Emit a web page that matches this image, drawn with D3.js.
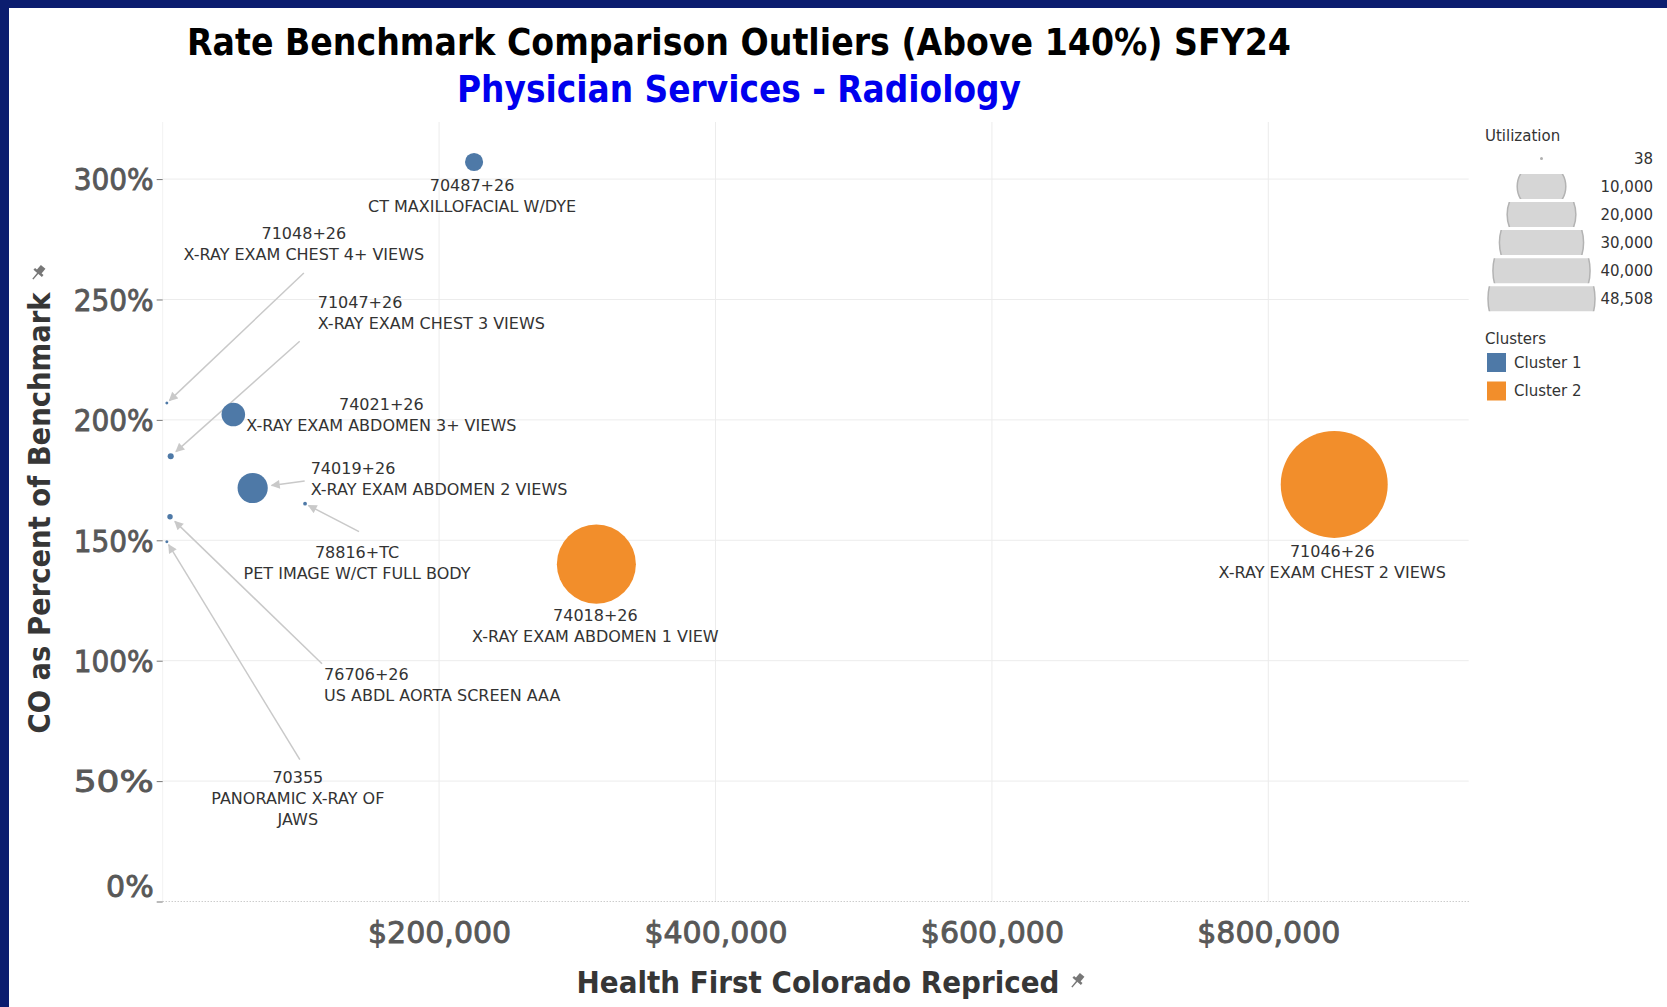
<!DOCTYPE html>
<html>
<head>
<meta charset="utf-8">
<script src="https://cdn.jsdelivr.net/npm/d3@7"></script>
<style>
  body { margin: 0; background: #fff; }
  svg text { font-family: "DejaVu Sans", Verdana, sans-serif; }
</style>
</head>
<body>
<svg id="chart" width="1667" height="1007"></svg>
<script>
// ---- data ----
const codes = ["70487+26", "71048+26", "71047+26", "74021+26", "74019+26",
               "78816+TC", "74018+26", "76706+26", "70355", "71046+26"];
const descriptions = ["CT MAXILLOFACIAL W/DYE", "X-RAY EXAM CHEST 4+ VIEWS", "X-RAY EXAM CHEST 3 VIEWS",
                      "X-RAY EXAM ABDOMEN 3+ VIEWS", "X-RAY EXAM ABDOMEN 2 VIEWS", "PET IMAGE W/CT FULL BODY",
                      "X-RAY EXAM ABDOMEN 1 VIEW", "US ABDL AORTA SCREEN AAA", "PANORAMIC X-RAY OF JAWS",
                      "X-RAY EXAM CHEST 2 VIEWS"];
const repriced = [225300, 3000, 5800, 51100, 65100, 103000, 313800, 5300, 3000, 847700];
const pctOfBenchmark = [307.1, 207.0, 184.9, 202.2, 171.7, 165.2, 140.1, 159.8, 149.4, 173.2];
const utilization = [1390, 38, 155, 2350, 3860, 60, 26470, 125, 38, 48508];
const clusterOf = [1, 1, 1, 1, 1, 1, 2, 1, 1, 2];

const xTicks = [200000, 400000, 600000, 800000];
const yTicks = [0, 50, 100, 150, 200, 250, 300];
const sizeLegendValues = [38, 10000, 20000, 30000, 40000, 48508];
const clusterNames = ["Cluster 1", "Cluster 2"];
const clusterColors = ["#4e79a7", "#f28e2b"];

// annotation placement, pixel offsets from each mark (label first baseline, arrow tail)
const labelLayout = [
  {dx: -2,  dy: 29,   anchor: "middle", wrap: 40},
  {dx: 137, dy: -164, anchor: "middle", wrap: 40, arrow: [137, -130]},
  {dx: 147, dy: -148, anchor: "start",  wrap: 40, arrow: [129, -115]},
  {dx: 148, dy: -5,   anchor: "middle", wrap: 40},
  {dx: 58,  dy: -14,  anchor: "start",  wrap: 40, arrow: [52, -7]},
  {dx: 52,  dy: 54,   anchor: "middle", wrap: 40, arrow: [54, 28]},
  {dx: -1,  dy: 57,   anchor: "middle", wrap: 40},
  {dx: 154, dy: 163,  anchor: "start",  wrap: 40, arrow: [152, 147]},
  {dx: 131, dy: 241,  anchor: "middle", wrap: 18, arrow: [133, 218]},
  {dx: -2,  dy: 73,   anchor: "middle", wrap: 40}
];

// ---- layout ----
const plot = {left: 162.7, right: 1468.7, top: 122, bottom: 901.5};
const svg = d3.select("#chart");

const x = d3.scaleLinear().domain([0, 945000]).range([plot.left, plot.right]);
const y = d3.scaleLinear().domain([0, 323.7]).range([plot.bottom, plot.top]);
const r = d3.scaleSqrt().domain([0, 48508]).range([0, 53.5]);
const color = d => clusterColors[d - 1];

// page frame
svg.append("rect").attr("width", 1667).attr("height", 1007).attr("fill", "#fff");
svg.append("rect").attr("width", 1667).attr("height", 8).attr("fill", "#0b1d6f");
svg.append("rect").attr("width", 9).attr("height", 1007).attr("fill", "#0b1d6f");

// titles
svg.append("text")
   .attr("x", 739).attr("y", 55)
   .attr("text-anchor", "middle")
   .attr("textLength", 1104).attr("lengthAdjust", "spacingAndGlyphs")
   .style("font-size", "38px").style("font-weight", "bold").attr("fill", "#000")
   .text("Rate Benchmark Comparison Outliers (Above 140%) SFY24");
svg.append("text")
   .attr("x", 739).attr("y", 102)
   .attr("text-anchor", "middle")
   .attr("textLength", 564).attr("lengthAdjust", "spacingAndGlyphs")
   .style("font-size", "38px").style("font-weight", "bold").attr("fill", "#0000ee")
   .text("Physician Services - Radiology");

// grid
let grid = svg.append("g");
grid.selectAll(".hgrid")
    .data(yTicks.filter(d => d > 0))
    .enter().append("line")
    .attr("x1", plot.left).attr("x2", plot.right)
    .attr("y1", d => y(d)).attr("y2", d => y(d))
    .attr("stroke", "#ececec");
grid.selectAll(".vgrid")
    .data([0].concat(xTicks))
    .enter().append("line")
    .attr("x1", d => x(d)).attr("x2", d => x(d))
    .attr("y1", plot.top).attr("y2", plot.bottom)
    .attr("stroke", d => d === 0 ? "#f2f2f2" : "#ececec");
grid.append("line")
    .attr("x1", plot.left).attr("x2", plot.right)
    .attr("y1", y(0)).attr("y2", y(0))
    .attr("stroke", "#b5b5b5").attr("stroke-dasharray", "1,2");

// y axis
svg.append("g")
   .attr("transform", `translate(${plot.left},0)`)
   .call(d3.axisLeft(y).tickValues(yTicks).tickFormat(d => d + "%").tickSize(6).tickPadding(3))
   .call(g => g.select(".domain").remove())
   .call(g => g.selectAll(".tick line").attr("stroke", "#777"))
   .call(g => g.selectAll(".tick text")
       .style("font-family", "'DejaVu Sans', sans-serif")
       .style("font-size", "30px")
       .attr("textLength", d => d === 0 ? null : 80).attr("lengthAdjust", "spacingAndGlyphs")
       .attr("fill", "#585858").attr("stroke", "#585858").attr("stroke-width", 0.9)
       .attr("dy", "0.36em")
       .attr("y", d => d === 0 ? -16 : 0));

// x axis
svg.append("g")
   .attr("transform", `translate(0,${plot.bottom})`)
   .call(d3.axisBottom(x).tickValues(xTicks).tickFormat(d3.format("$,")).tickSize(0).tickPadding(0))
   .call(g => g.select(".domain").remove())
   .call(g => g.selectAll(".tick text")
       .style("font-family", "'DejaVu Sans', sans-serif")
       .style("font-size", "30px")
       .attr("fill", "#585858").attr("stroke", "#585858").attr("stroke-width", 0.9)
       .attr("y", 31).attr("dy", "0.36em"));

// pin icon next to the axis titles
function pin(px, py) {
  let p = svg.append("g").attr("transform", `translate(${px},${py}) rotate(40)`).attr("fill", "#777");
  p.append("rect").attr("x", -3).attr("y", -8).attr("width", 6).attr("height", 7);
  p.append("rect").attr("x", -5.5).attr("y", -2).attr("width", 11).attr("height", 2.5);
  p.append("line").attr("x1", 0).attr("x2", 0).attr("y1", 0).attr("y2", 8)
   .attr("stroke", "#777").attr("stroke-width", 1.5);
}

// axis titles
svg.append("text")
   .attr("transform", "translate(50,513) rotate(-90)")
   .attr("text-anchor", "middle")
   .attr("textLength", 441).attr("lengthAdjust", "spacingAndGlyphs")
   .style("font-size", "30px").style("font-weight", "bold").attr("fill", "#363636")
   .text("CO as Percent of Benchmark");
pin(38, 273);
svg.append("text")
   .attr("x", 818).attr("y", 993)
   .attr("text-anchor", "middle")
   .attr("textLength", 483).attr("lengthAdjust", "spacingAndGlyphs")
   .style("font-size", "30px").style("font-weight", "bold").attr("fill", "#363636")
   .text("Health First Colorado Repriced");
pin(1077, 981);

// marks
const points = codes.map((c, i) => ({
  code: c, desc: descriptions[i], xv: repriced[i], yv: pctOfBenchmark[i],
  u: utilization[i], cluster: clusterOf[i], lay: labelLayout[i]
}));

svg.append("defs").append("marker")
   .attr("id", "arrowhead")
   .attr("viewBox", "0 0 10 10").attr("refX", 9).attr("refY", 5)
   .attr("markerWidth", 10).attr("markerHeight", 9)
   .attr("markerUnits", "userSpaceOnUse")
   .attr("orient", "auto")
   .append("path").attr("d", "M0,0 L10,5 L0,10 Z").attr("fill", "#c9c9c9");

// arrows
svg.append("g").selectAll("line")
   .data(points.filter(p => p.lay.arrow))
   .enter().append("line")
   .each(function(p) {
     let cx = x(p.xv), cy = y(p.yv);
     let tx = cx + p.lay.arrow[0], ty = cy + p.lay.arrow[1];
     let len = Math.hypot(tx - cx, ty - cy);
     let gap = r(p.u) + (p.u < 100 ? 2 : 4);
     d3.select(this)
       .attr("x1", tx).attr("y1", ty)
       .attr("x2", cx + (tx - cx) / len * gap)
       .attr("y2", cy + (ty - cy) / len * gap);
   })
   .attr("stroke", "#c9c9c9").attr("stroke-width", 1.5)
   .attr("marker-end", "url(#arrowhead)");

svg.append("g").selectAll("circle")
   .data(points.slice().sort((a, b) => b.u - a.u))
   .enter().append("circle")
   .attr("cx", d => x(d.xv))
   .attr("cy", d => y(d.yv))
   .attr("r", d => Math.max(1, r(d.u)))
   .attr("fill", d => color(d.cluster));

// word wrap for long descriptions
function wrapText(s, n) {
  let lines = [], cur = "";
  s.split(" ").forEach(w => {
    if (cur && (cur + " " + w).length > n) { lines.push(cur); cur = w; }
    else cur = cur ? cur + " " + w : w;
  });
  lines.push(cur);
  return lines;
}

let labels = svg.append("g").selectAll("text")
   .data(points)
   .enter().append("text")
   .attr("text-anchor", d => d.lay.anchor)
   .style("font-size", "16px")
   .attr("fill", "#333");
labels.each(function(d) {
  let t = d3.select(this);
  let lx = x(d.xv) + d.lay.dx, ly = y(d.yv) + d.lay.dy;
  [d.code].concat(wrapText(d.desc, d.lay.wrap)).forEach((line, i) => {
    t.append("tspan").attr("x", lx).attr("y", ly + i * 21).text(line);
  });
});

// ---- legends ----
let legend = svg.append("g");
legend.append("text").attr("x", 1485).attr("y", 141)
      .style("font-size", "15px").attr("fill", "#333").text("Utilization");

const rowY = (d, i) => 158.4 + i * 28.06;
let defs = svg.select("defs");
sizeLegendValues.forEach((v, i) => {
  defs.append("clipPath").attr("id", "row" + i)
      .append("rect").attr("x", 1470).attr("y", rowY(v, i) - 12.5)
      .attr("width", 150).attr("height", 25);
});
let rows = legend.selectAll(".srow")
      .data(sizeLegendValues)
      .enter().append("g");
rows.append("circle")
    .attr("clip-path", (d, i) => `url(#row${i})`)
    .attr("cx", 1541.5).attr("cy", rowY)
    .attr("r", d => Math.max(1.5, r(d)))
    .attr("fill", d => d < 100 ? "#b0b0b0" : "#d6d6d6")
    .attr("stroke", d => d < 100 ? "none" : "#b3b3b3")
    .attr("stroke-width", 1.5);
rows.append("text")
    .attr("x", 1653).attr("y", (d, i) => rowY(d, i) + 5.5)
    .attr("text-anchor", "end")
    .style("font-size", "15px").attr("fill", "#333")
    .text(d3.format(","));

legend.append("text").attr("x", 1485).attr("y", 344)
      .style("font-size", "15px").attr("fill", "#333").text("Clusters");
let crow = legend.selectAll(".crow")
      .data(clusterNames)
      .enter().append("g")
      .attr("transform", (d, i) => `translate(1487,${353 + i * 28.5})`);
crow.append("rect").attr("width", 19).attr("height", 19)
    .attr("fill", (d, i) => clusterColors[i]);
crow.append("text").attr("x", 27).attr("y", 14.5)
    .style("font-size", "15px").attr("fill", "#333")
    .text(d => d);
</script>
</body>
</html>
